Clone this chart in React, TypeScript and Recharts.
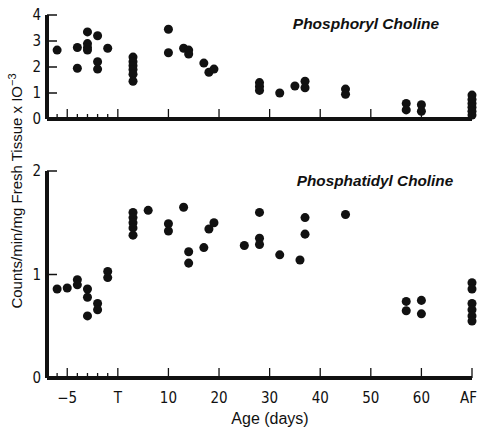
import { Scatter, ScatterChart, XAxis, YAxis, ZAxis } from 'recharts';

type Point = { age: number; value: number };

// ages in days; prenatal days are negative, "AF" (adult) sits at the end of the axis
const ADULT = 70;

const phosphorylCholine: Point[] = [
  { age: -6, value: 2.65 },
  { age: -4, value: 2.75 },
  { age: -4, value: 1.95 },
  { age: -3, value: 3.35 },
  { age: -3, value: 2.9 },
  { age: -3, value: 2.75 },
  { age: -3, value: 2.65 },
  { age: -2, value: 3.2 },
  { age: -2, value: 2.2 },
  { age: -2, value: 1.92 },
  { age: -1, value: 2.72 },
  { age: 3, value: 2.38 },
  { age: 3, value: 2.2 },
  { age: 3, value: 2.05 },
  { age: 3, value: 1.9 },
  { age: 3, value: 1.72 },
  { age: 3, value: 1.45 },
  { age: 10, value: 3.45 },
  { age: 10, value: 2.55 },
  { age: 13, value: 2.72 },
  { age: 14, value: 2.65 },
  { age: 14, value: 2.5 },
  { age: 17, value: 2.15 },
  { age: 18, value: 1.8 },
  { age: 19, value: 1.92 },
  { age: 28, value: 1.4 },
  { age: 28, value: 1.25 },
  { age: 28, value: 1.1 },
  { age: 32, value: 1.0 },
  { age: 35, value: 1.27 },
  { age: 37, value: 1.45 },
  { age: 37, value: 1.2 },
  { age: 45, value: 1.15 },
  { age: 45, value: 0.95 },
  { age: 57, value: 0.6 },
  { age: 57, value: 0.35 },
  { age: 60, value: 0.55 },
  { age: 60, value: 0.3 },
  { age: ADULT, value: 0.92 },
  { age: ADULT, value: 0.75 },
  { age: ADULT, value: 0.6 },
  { age: ADULT, value: 0.45 },
  { age: ADULT, value: 0.3 },
  { age: ADULT, value: 0.15 },
];

const phosphatidylCholine: Point[] = [
  { age: -6, value: 0.86 },
  { age: -5, value: 0.87 },
  { age: -4, value: 0.95 },
  { age: -4, value: 0.9 },
  { age: -3, value: 0.86 },
  { age: -3, value: 0.78 },
  { age: -3, value: 0.6 },
  { age: -2, value: 0.72 },
  { age: -2, value: 0.66 },
  { age: -1, value: 1.03 },
  { age: -1, value: 0.97 },
  { age: 3, value: 1.6 },
  { age: 3, value: 1.55 },
  { age: 3, value: 1.5 },
  { age: 3, value: 1.45 },
  { age: 3, value: 1.38 },
  { age: 6, value: 1.62 },
  { age: 10, value: 1.49 },
  { age: 10, value: 1.42 },
  { age: 13, value: 1.65 },
  { age: 14, value: 1.22 },
  { age: 14, value: 1.11 },
  { age: 17, value: 1.26 },
  { age: 18, value: 1.44 },
  { age: 19, value: 1.5 },
  { age: 25, value: 1.28 },
  { age: 28, value: 1.6 },
  { age: 28, value: 1.35 },
  { age: 28, value: 1.29 },
  { age: 32, value: 1.19 },
  { age: 36, value: 1.14 },
  { age: 37, value: 1.55 },
  { age: 37, value: 1.39 },
  { age: 45, value: 1.58 },
  { age: 57, value: 0.74 },
  { age: 57, value: 0.65 },
  { age: 60, value: 0.75 },
  { age: 60, value: 0.62 },
  { age: ADULT, value: 0.92 },
  { age: ADULT, value: 0.86 },
  { age: ADULT, value: 0.72 },
  { age: ADULT, value: 0.66 },
  { age: ADULT, value: 0.6 },
  { age: ADULT, value: 0.55 },
];

const xTickAges = [-6, -5, -4, -3, -2, -1, 0, 10, 20, 30, 40, 50, 60, ADULT];
const xTickLabels = ['', '\u22125', '', '', '', '', 'T', '10', '20', '30', '40', '50', '60', 'AF'];
const phosphorylTicks = [0, 1, 2, 3, 4];
const phosphatidylTicks = [0, 1, 2];

// the prenatal part of the axis is drawn at twice the scale
const toAxis = (age: number) => (age < 0 ? age * 2 : age);
const xTicks = xTickAges.map(toAxis);
const X_DOMAIN = [-14, ADULT];

const withAxis = (points: Point[]) => points.map((p) => ({ x: toAxis(p.age), y: p.value }));

const tickFont = '"Liberation Sans Narrow", "DejaVu Sans Condensed", sans-serif';
const ink = '#111';

const makeXTick = (showLabels: boolean) => (props: any) => {
  const { x, y, payload } = props;
  const i = xTicks.indexOf(payload.value);
  const label = xTickLabels[i] ?? '';
  const len = label ? 10 : 5;
  const last = i === xTicks.length - 1;
  return (
    <g>
      <line x1={x} x2={x} y1={y} y2={y - len} stroke={ink} strokeWidth={1.3} />
      {showLabels && label && (
        <text
          x={last ? x + 5 : x}
          y={y + 25}
          textAnchor={last ? 'end' : 'middle'}
          fontSize={15}
          fontFamily={tickFont}
          fill={ink}
        >
          {label}
        </text>
      )}
    </g>
  );
};

const YTick = (props: any) => {
  const { x, y, payload } = props;
  return (
    <g>
      <line x1={x} x2={x + 10} y1={y} y2={y} stroke={ink} strokeWidth={1.5} />
      <text x={x - 6} y={y + 5} textAnchor="end" fontSize={15} fontFamily={tickFont} fill={ink}>
        {payload.value}
      </text>
    </g>
  );
};

function Panel({
  data,
  height,
  top,
  yMax,
  yTicks,
  xAxisHeight,
  showLabels,
}: {
  data: Point[];
  height: number;
  top: number;
  yMax: number;
  yTicks: number[];
  xAxisHeight: number;
  showLabels: boolean;
}) {
  return (
    <ScatterChart width={478} height={height} margin={{ top, right: 6, left: 17, bottom: 0 }}>
      <XAxis
        type="number"
        dataKey="x"
        domain={X_DOMAIN}
        ticks={xTicks}
        interval={0}
        height={xAxisHeight}
        tickSize={0}
        tickMargin={0}
        tickLine={false}
        axisLine={{ stroke: ink, strokeWidth: 4 }}
        tick={makeXTick(showLabels)}
      />
      <YAxis
        type="number"
        dataKey="y"
        domain={[0, yMax]}
        ticks={yTicks}
        interval={0}
        width={30}
        tickSize={0}
        tickMargin={0}
        tickLine={false}
        axisLine={{ stroke: ink, strokeWidth: 4 }}
        tick={YTick}
      />
      <ZAxis range={[56, 56]} />
      <Scatter data={withAxis(data)} fill={ink} isAnimationActive={false} />
    </ScatterChart>
  );
}

export default function App() {
  return (
    <div style={{ position: 'absolute', left: 0, top: 0, width: 478, height: 428, background: '#fff' }}>
      <div style={{ position: 'absolute', left: 0, top: 0 }}>
        <Panel data={phosphorylCholine} height={135} top={15} yMax={4} yTicks={phosphorylTicks} xAxisHeight={16} showLabels={false} />
      </div>
      <div style={{ position: 'absolute', left: 0, top: 135 }}>
        <Panel data={phosphatidylCholine} height={293} top={36} yMax={2} yTicks={phosphatidylTicks} xAxisHeight={50} showLabels />
      </div>
      <svg
        width={478}
        height={428}
        style={{ position: 'absolute', left: 0, top: 0, pointerEvents: 'none' }}
        fontFamily='"Liberation Sans", Arial, sans-serif'
        fill={ink}
      >
        <text x={366} y={29} textAnchor="middle" fontSize={15.5} fontWeight="bold" fontStyle="italic">
          Phosphoryl Choline
        </text>
        <text x={375} y={186} textAnchor="middle" fontSize={15.3} fontWeight="bold" fontStyle="italic">
          Phosphatidyl Choline
        </text>
        <text x={270} y={424} textAnchor="middle" fontSize={16}>
          Age (days)
        </text>
        <text transform="translate(22,191) rotate(-90)" textAnchor="middle" fontSize={15}>
          Counts/min/mg Fresh Tissue x IO
          <tspan fontSize={11} dy={-6}>
            {'\u22123'}
          </tspan>
        </text>
      </svg>
    </div>
  );
}
